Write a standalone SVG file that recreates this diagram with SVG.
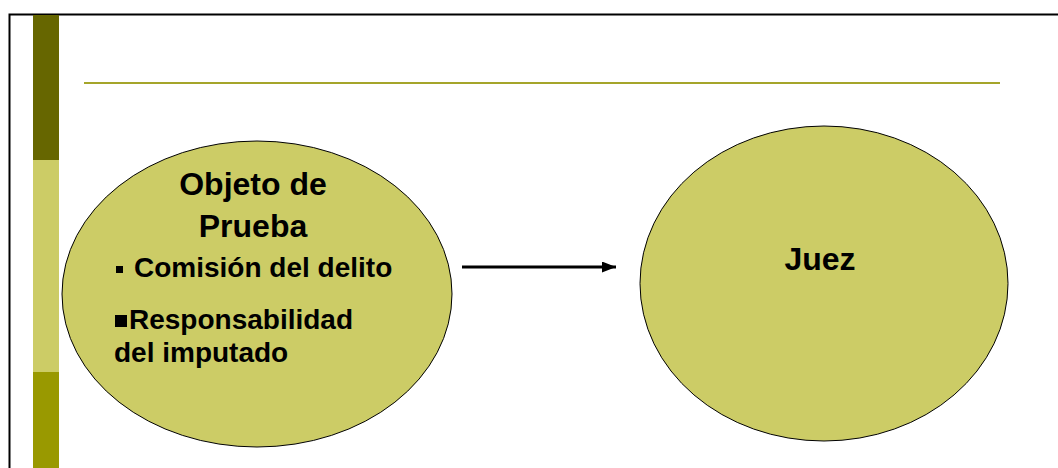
<svg xmlns="http://www.w3.org/2000/svg" width="1058" height="468" viewBox="0 0 1058 468">
  <style>
    .bubble { fill: #cccc66; stroke: #000000; stroke-width: 1; }
    .title { font-family: "Liberation Sans", Arial, sans-serif; font-weight: bold; font-size: 32px; fill: #000000; }
    .item { font-family: "Liberation Sans", Arial, sans-serif; font-weight: bold; font-size: 28px; fill: #000000; }
    .link { stroke: #000000; stroke-width: 3; fill: none; }
  </style>
  <defs>
    <marker id="arrowhead" markerWidth="14" markerHeight="11" refX="14" refY="5.5" orient="auto" markerUnits="userSpaceOnUse">
      <path d="M0,0 L14,5.5 L0,11 Z" fill="#000000"/>
    </marker>
  </defs>

  <rect x="0" y="0" width="1058" height="468" fill="#ffffff"/>

  <!-- slide frame -->
  <path d="M1058,14.5 H9.5 V468" fill="none" stroke="#000000" stroke-width="2"/>

  <!-- side bar -->
  <rect x="33" y="15" width="26" height="145" fill="#666600"/>
  <rect x="33" y="160" width="26" height="212" fill="#cccc66"/>
  <rect x="33" y="372" width="26" height="96" fill="#999900"/>

  <!-- header rule -->
  <line x1="84" y1="83" x2="1000" y2="83" stroke="#a5a52a" stroke-width="2"/>

  <g id="connectors">
    <line class="link" x1="462" y1="267" x2="616" y2="267" marker-end="url(#arrowhead)"/>
  </g>

  <g id="objeto-de-prueba">
    <ellipse class="bubble" cx="257" cy="294" rx="195" ry="153"/>
    <text class="title" x="253" y="195" text-anchor="middle">Objeto de</text>
    <text class="title" x="253" y="237" text-anchor="middle">Prueba</text>
    <rect x="116" y="266" width="7" height="7" fill="#000000"/>
    <text class="item" x="134" y="277">Comisión del delito</text>
    <rect x="115" y="315" width="12" height="12" fill="#000000"/>
    <text class="item" x="129" y="329">Responsabilidad</text>
    <text class="item" x="114" y="362">del imputado</text>
  </g>

  <g id="juez">
    <ellipse class="bubble" cx="824" cy="283.5" rx="184" ry="157.5"/>
    <text class="title" x="820" y="270" text-anchor="middle">Juez</text>
  </g>
</svg>
